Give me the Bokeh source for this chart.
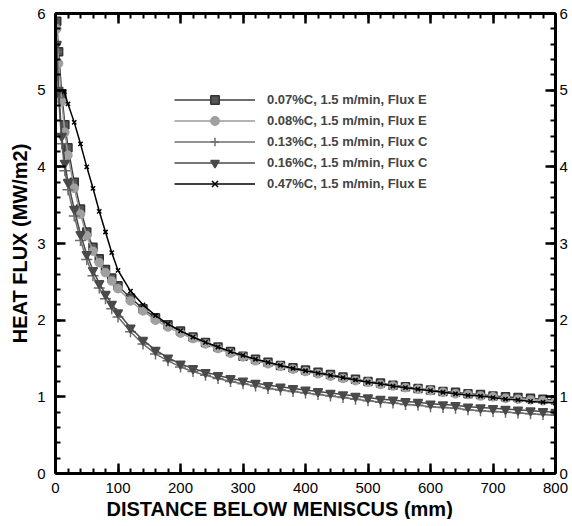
from bokeh.plotting import figure
from bokeh.models import LinearAxis, SingleIntervalTicker, Range1d, Legend, CustomLabelingPolicy, Title
from bokeh.embed import file_html
from bokeh.resources import INLINE

# ---- data ----
X = [2, 5, 10, 15, 20, 30, 40, 50, 60, 70, 80, 90, 100,
     120, 140, 160, 180, 200, 220, 240, 260, 280, 300,
     320, 340, 360, 380, 400, 420, 440, 460, 480, 500,
     520, 540, 560, 580, 600, 620, 640, 660, 680, 700,
     720, 740, 760, 780, 800]
X_E = [14, 20, 30, 40, 50, 60, 70, 80, 90, 100,
       120, 140, 160, 180, 200, 220, 240, 260, 280, 300,
       320, 340, 360, 380, 400, 420, 440, 460, 480, 500,
       520, 540, 560, 580, 600, 620, 640, 660, 680, 700,
       720, 740, 760, 780, 800]

C007 = [5.90, 5.50, 4.95, 4.55, 4.25, 3.80, 3.45, 3.15, 2.95, 2.80, 2.66, 2.55, 2.45,
        2.29, 2.15, 2.03, 1.94, 1.86, 1.78, 1.71, 1.65, 1.59, 1.53,
        1.49, 1.45, 1.41, 1.38, 1.35, 1.32, 1.29, 1.26, 1.23, 1.20,
        1.18, 1.15, 1.13, 1.11, 1.09, 1.07, 1.06, 1.04, 1.03, 1.01,
        1.00, 0.99, 0.98, 0.97, 0.96]
C008 = [5.80, 5.35, 4.85, 4.45, 4.15, 3.72, 3.38, 3.10, 2.90, 2.75, 2.62, 2.51, 2.41,
        2.25, 2.12, 2.00, 1.91, 1.83, 1.76, 1.69, 1.63, 1.57, 1.52,
        1.47, 1.43, 1.40, 1.36, 1.33, 1.30, 1.27, 1.24, 1.21, 1.19,
        1.16, 1.14, 1.12, 1.10, 1.08, 1.06, 1.04, 1.03, 1.01, 1.00,
        0.98, 0.97, 0.96, 0.95, 0.94]
C013 = [5.50, 4.90, 4.30, 3.95, 3.70, 3.36, 3.04, 2.79, 2.58, 2.42, 2.28, 2.15, 2.04,
        1.85, 1.69, 1.56, 1.47, 1.39, 1.33, 1.28, 1.24, 1.20, 1.17,
        1.14, 1.11, 1.09, 1.07, 1.05, 1.03, 1.01, 0.99, 0.97, 0.95,
        0.93, 0.92, 0.90, 0.89, 0.87, 0.86, 0.85, 0.83, 0.82, 0.81,
        0.80, 0.79, 0.78, 0.77, 0.76]
C016 = [5.60, 5.00, 4.40, 4.05, 3.80, 3.45, 3.12, 2.86, 2.65, 2.48, 2.34, 2.21, 2.10,
        1.90, 1.74, 1.61, 1.51, 1.43, 1.37, 1.32, 1.28, 1.24, 1.21,
        1.18, 1.15, 1.13, 1.11, 1.09, 1.07, 1.05, 1.03, 1.01, 0.99,
        0.97, 0.96, 0.94, 0.93, 0.91, 0.90, 0.89, 0.87, 0.86, 0.85,
        0.84, 0.83, 0.82, 0.81, 0.80]
C047 = [4.98, 4.82, 4.58, 4.30, 4.00, 3.72, 3.42, 3.15, 2.88, 2.65,
        2.38, 2.20, 2.06, 1.95, 1.86, 1.78, 1.71, 1.65, 1.59, 1.54,
        1.49, 1.45, 1.41, 1.37, 1.34, 1.31, 1.28, 1.25, 1.22, 1.19,
        1.17, 1.14, 1.12, 1.10, 1.08, 1.06, 1.04, 1.02, 1.01, 0.99,
        0.97, 0.96, 0.94, 0.93, 0.92]

LABELS = ["0.07%C, 1.5 m/min, Flux E",
          "0.08%C, 1.5 m/min, Flux E",
          "0.13%C, 1.5 m/min, Flux C",
          "0.16%C, 1.5 m/min, Flux C",
          "0.47%C, 1.5 m/min, Flux E"]
X_TITLE = "DISTANCE BELOW MENISCUS (mm)"
Y_TITLE = "HEAT FLUX (MW/m2)"

FONT = "Liberation Sans"

p = figure(frame_width=500, frame_height=460, output_backend="svg",
           toolbar_location=None, x_range=Range1d(0, 800), y_range=Range1d(0, 6),
           min_border_left=4, min_border_right=4, min_border_top=7, min_border_bottom=2)
p.margin = (0, 0, 0, 6)
p.xgrid.visible = False
p.ygrid.visible = False
p.outline_line_color = None
p.background_fill_color = "white"

series = [
    (X, C007, LABELS[0], "square", "#3c3c3c", "#555555", "#333333", 8),
    (X, C008, LABELS[1], "circle", "#9a9a9a", "#a0a0a0", "#a0a0a0", 8),
    (X, C013, LABELS[2], "cross", "#6e6e6e", None, "#6e6e6e", 11),
    (X, C016, LABELS[3], "inverted_triangle", "#4a4a4a", "#4a4a4a", "#4a4a4a", 9),
    (X_E, C047, LABELS[4], "x", "#000000", None, "#000000", 6),
]

items = []
for xs, ys, lab, mk, lc, fc, mlc, sz in series:
    r1 = p.line(xs, ys, line_color=lc, line_width=1.5)
    r2 = p.scatter(xs, ys, marker=mk, size=sz, line_color=mlc,
                   fill_color=fc, line_width=1.5)
    items.append((lab, [r1, r2]))

legend = Legend(items=items, location=(119, 279), orientation="vertical")
legend.label_text_font = FONT
legend.label_text_font_style = "bold"
legend.label_text_font_size = "13px"
legend.glyph_width = 81
legend.glyph_height = 21
legend.label_height = 21
legend.spacing = 0
legend.label_standoff = 12
legend.padding = 0
legend.margin = 0
legend.border_line_color = None
legend.background_fill_alpha = 0
p.add_layout(legend)

bottom = p.below[0]
left = p.left[0]
bottom.ticker = SingleIntervalTicker(interval=100, num_minor_ticks=5)
left.ticker = SingleIntervalTicker(interval=1, num_minor_ticks=5)

no_labels = CustomLabelingPolicy(code="""
const all = [...indices]
for (const i of all) { indices.unset(i) }
return indices
""")
top = LinearAxis(ticker=SingleIntervalTicker(interval=100, num_minor_ticks=5),
                 major_label_policy=no_labels)
right = LinearAxis(ticker=SingleIntervalTicker(interval=1, num_minor_ticks=5))
p.add_layout(top, "above")
p.add_layout(right, "right")

for ax in [bottom, left, top, right]:
    ax.axis_line_width = 3
    ax.axis_line_color = "black"
    ax.major_tick_in = 10
    ax.major_tick_out = 0
    ax.minor_tick_in = 5
    ax.minor_tick_out = 0
    ax.major_tick_line_width = 2.5
    ax.minor_tick_line_width = 2
    ax.major_tick_line_color = "black"
    ax.minor_tick_line_color = "black"
    ax.major_label_text_font = FONT
    ax.major_label_text_color = "black"
    ax.major_label_text_font_size = "15px"

bottom.major_label_standoff = 9
left.major_label_standoff = 10
right.major_label_standoff = 4
top.major_label_standoff = 0

left.axis_label = Y_TITLE
left.axis_label_text_font = FONT
left.axis_label_text_font_style = "bold"
left.axis_label_text_font_size = "20px"
left.axis_label_text_color = "black"
left.axis_label_standoff = 3

xtitle = Title(text=X_TITLE, align="left", offset=51, standoff=0,
               text_font=FONT, text_font_style="bold", text_font_size="20px",
               text_color="black")
p.add_layout(xtitle, "below")

open("out.html", "w").write(file_html(p, INLINE))
